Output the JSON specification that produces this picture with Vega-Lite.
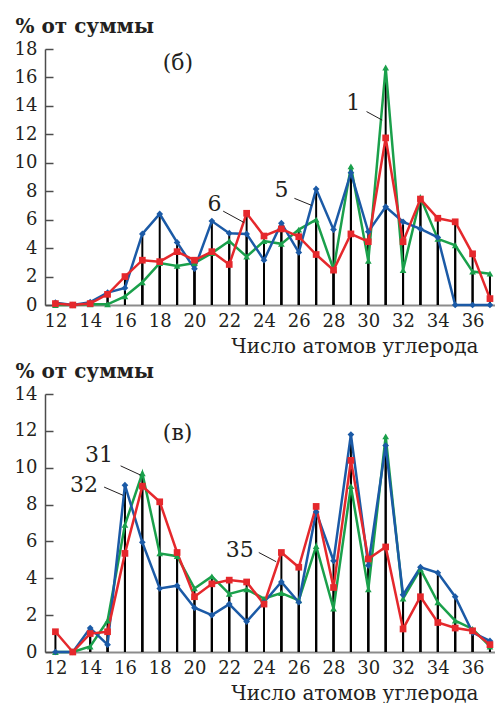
{
  "$schema": "https://vega.github.io/schema/vega-lite/v6.json",
  "padding": {"left": 14, "top": 16, "right": 0, "bottom": 0},
  "background": "white",
  "bounds": "flush",
  "spacing": 89,
  "config": {
    "view": {"stroke": null},
    "font": "DejaVu Serif",
    "axis": {"grid": false, "labelFont": "DejaVu Serif", "titleFont": "DejaVu Serif", "labelColor": "#231f20", "titleColor": "#231f20", "labelOverlap": false, "labelFlush": false, "labelFontSize": 18, "titleFontSize": 20},
    "axisX": {"ticks": false, "domain": true, "domainColor": "#8c8c8c", "domainWidth": 2, "labelPadding": 7, "titleFontWeight": "normal", "titleAlign": "right", "titleX": 433, "titleY": 47, "titleBaseline": "alphabetic"},
    "axisY": {"domain": true, "domainColor": "#4d4d4d", "domainWidth": 1.5, "ticks": true, "tickColor": "#4d4d4d", "tickWidth": 1.5, "tickSize": -8, "labelPadding": 16, "titleAngle": 0, "titleAlign": "left", "titleX": -30, "titleY": -17, "titleBaseline": "alphabetic", "titleFontWeight": "bold"}
  },
  "datasets": {
    "b": [
      {"c": 12, "s": "1", "v": 0.0}, {"c": 12, "s": "5", "v": 0.16}, {"c": 12, "s": "6", "v": 0.1},
      {"c": 13, "s": "1", "v": 0.0}, {"c": 13, "s": "5", "v": 0.0}, {"c": 13, "s": "6", "v": 0.0},
      {"c": 14, "s": "1", "v": 0.05}, {"c": 14, "s": "5", "v": 0.2}, {"c": 14, "s": "6", "v": 0.1},
      {"c": 15, "s": "1", "v": 0.05}, {"c": 15, "s": "5", "v": 0.87}, {"c": 15, "s": "6", "v": 0.75},
      {"c": 16, "s": "1", "v": 0.6}, {"c": 16, "s": "5", "v": 1.2}, {"c": 16, "s": "6", "v": 2.0},
      {"c": 17, "s": "1", "v": 1.6}, {"c": 17, "s": "5", "v": 5.0}, {"c": 17, "s": "6", "v": 3.15},
      {"c": 18, "s": "1", "v": 2.95}, {"c": 18, "s": "5", "v": 6.4}, {"c": 18, "s": "6", "v": 3.05},
      {"c": 19, "s": "1", "v": 2.75}, {"c": 19, "s": "5", "v": 4.4}, {"c": 19, "s": "6", "v": 3.75},
      {"c": 20, "s": "1", "v": 2.95}, {"c": 20, "s": "5", "v": 2.55}, {"c": 20, "s": "6", "v": 3.15},
      {"c": 21, "s": "1", "v": 3.65}, {"c": 21, "s": "5", "v": 5.9}, {"c": 21, "s": "6", "v": 3.75},
      {"c": 22, "s": "1", "v": 4.5}, {"c": 22, "s": "5", "v": 5.05}, {"c": 22, "s": "6", "v": 2.85},
      {"c": 23, "s": "1", "v": 3.4}, {"c": 23, "s": "5", "v": 5.0}, {"c": 23, "s": "6", "v": 6.45},
      {"c": 24, "s": "1", "v": 4.5}, {"c": 24, "s": "5", "v": 3.15}, {"c": 24, "s": "6", "v": 4.85},
      {"c": 25, "s": "1", "v": 4.3}, {"c": 25, "s": "5", "v": 5.75}, {"c": 25, "s": "6", "v": 5.35},
      {"c": 26, "s": "1", "v": 5.3}, {"c": 26, "s": "5", "v": 3.7}, {"c": 26, "s": "6", "v": 4.8},
      {"c": 27, "s": "1", "v": 6.0}, {"c": 27, "s": "5", "v": 8.15}, {"c": 27, "s": "6", "v": 3.55},
      {"c": 28, "s": "1", "v": 2.5}, {"c": 28, "s": "5", "v": 5.3}, {"c": 28, "s": "6", "v": 2.45},
      {"c": 29, "s": "1", "v": 9.75}, {"c": 29, "s": "5", "v": 9.3}, {"c": 29, "s": "6", "v": 5.0},
      {"c": 30, "s": "1", "v": 3.1}, {"c": 30, "s": "5", "v": 5.15}, {"c": 30, "s": "6", "v": 4.45},
      {"c": 31, "s": "1", "v": 16.7}, {"c": 31, "s": "5", "v": 6.9}, {"c": 31, "s": "6", "v": 11.75},
      {"c": 32, "s": "1", "v": 2.45}, {"c": 32, "s": "5", "v": 5.85}, {"c": 32, "s": "6", "v": 4.45},
      {"c": 33, "s": "1", "v": 7.55}, {"c": 33, "s": "5", "v": 5.35}, {"c": 33, "s": "6", "v": 7.45},
      {"c": 34, "s": "1", "v": 4.65}, {"c": 34, "s": "5", "v": 4.75}, {"c": 34, "s": "6", "v": 6.1},
      {"c": 35, "s": "1", "v": 4.2}, {"c": 35, "s": "5", "v": 0.0}, {"c": 35, "s": "6", "v": 5.85},
      {"c": 36, "s": "1", "v": 2.35}, {"c": 36, "s": "5", "v": 0.0}, {"c": 36, "s": "6", "v": 3.6},
      {"c": 37, "s": "1", "v": 2.2}, {"c": 37, "s": "5", "v": 0.0}, {"c": 37, "s": "6", "v": 0.45}
    ],
    "v": [
      {"c": 12, "s": "31", "v": 0.0}, {"c": 12, "s": "32", "v": 0.0}, {"c": 12, "s": "35", "v": 1.1},
      {"c": 13, "s": "31", "v": 0.0}, {"c": 13, "s": "32", "v": 0.0}, {"c": 13, "s": "35", "v": 0.0},
      {"c": 14, "s": "31", "v": 0.3}, {"c": 14, "s": "32", "v": 1.3}, {"c": 14, "s": "35", "v": 1.0},
      {"c": 15, "s": "31", "v": 1.7}, {"c": 15, "s": "32", "v": 0.4}, {"c": 15, "s": "35", "v": 1.1},
      {"c": 16, "s": "31", "v": 6.9}, {"c": 16, "s": "32", "v": 9.05}, {"c": 16, "s": "35", "v": 5.35},
      {"c": 17, "s": "31", "v": 9.7}, {"c": 17, "s": "32", "v": 5.95}, {"c": 17, "s": "35", "v": 9.0},
      {"c": 18, "s": "31", "v": 5.35}, {"c": 18, "s": "32", "v": 3.45}, {"c": 18, "s": "35", "v": 8.15},
      {"c": 19, "s": "31", "v": 5.2}, {"c": 19, "s": "32", "v": 3.6}, {"c": 19, "s": "35", "v": 5.4},
      {"c": 20, "s": "31", "v": 3.45}, {"c": 20, "s": "32", "v": 2.4}, {"c": 20, "s": "35", "v": 3.0},
      {"c": 21, "s": "31", "v": 4.1}, {"c": 21, "s": "32", "v": 2.0}, {"c": 21, "s": "35", "v": 3.7},
      {"c": 22, "s": "31", "v": 3.15}, {"c": 22, "s": "32", "v": 2.6}, {"c": 22, "s": "35", "v": 3.9},
      {"c": 23, "s": "31", "v": 3.4}, {"c": 23, "s": "32", "v": 1.65}, {"c": 23, "s": "35", "v": 3.8},
      {"c": 24, "s": "31", "v": 2.9}, {"c": 24, "s": "32", "v": 2.7}, {"c": 24, "s": "35", "v": 2.6},
      {"c": 25, "s": "31", "v": 3.2}, {"c": 25, "s": "32", "v": 3.8}, {"c": 25, "s": "35", "v": 5.4},
      {"c": 26, "s": "31", "v": 2.8}, {"c": 26, "s": "32", "v": 2.7}, {"c": 26, "s": "35", "v": 4.6},
      {"c": 27, "s": "31", "v": 5.75}, {"c": 27, "s": "32", "v": 7.6}, {"c": 27, "s": "35", "v": 7.9},
      {"c": 28, "s": "31", "v": 2.35}, {"c": 28, "s": "32", "v": 4.95}, {"c": 28, "s": "35", "v": 3.5},
      {"c": 29, "s": "31", "v": 9.0}, {"c": 29, "s": "32", "v": 11.8}, {"c": 29, "s": "35", "v": 10.4},
      {"c": 30, "s": "31", "v": 3.4}, {"c": 30, "s": "32", "v": 4.7}, {"c": 30, "s": "35", "v": 5.05},
      {"c": 31, "s": "31", "v": 11.7}, {"c": 31, "s": "32", "v": 11.2}, {"c": 31, "s": "35", "v": 5.7},
      {"c": 32, "s": "31", "v": 2.9}, {"c": 32, "s": "32", "v": 3.1}, {"c": 32, "s": "35", "v": 1.25},
      {"c": 33, "s": "31", "v": 4.5}, {"c": 33, "s": "32", "v": 4.6}, {"c": 33, "s": "35", "v": 3.0},
      {"c": 34, "s": "31", "v": 2.7}, {"c": 34, "s": "32", "v": 4.3}, {"c": 34, "s": "35", "v": 1.6},
      {"c": 35, "s": "31", "v": 1.7}, {"c": 35, "s": "32", "v": 3.0}, {"c": 35, "s": "35", "v": 1.3},
      {"c": 36, "s": "31", "v": 1.25}, {"c": 36, "s": "32", "v": 1.05}, {"c": 36, "s": "35", "v": 1.15},
      {"c": 37, "s": "31", "v": 0.3}, {"c": 37, "s": "32", "v": 0.6}, {"c": 37, "s": "35", "v": 0.4}
    ],
    "bt": [
      {"c": 19.05, "v": 17.0, "t": "(б)"},
      {"c": 29.14, "v": 14.2, "t": "1"},
      {"c": 25.0, "v": 8.1, "t": "5"},
      {"c": 21.15, "v": 7.1, "t": "6"}
    ],
    "bl": [
      {"c": 29.9, "v": 13.6, "c2": 30.8, "v2": 13.0},
      {"c": 25.75, "v": 7.5, "c2": 26.75, "v2": 7.0},
      {"c": 21.65, "v": 6.6, "c2": 22.85, "v2": 5.8}
    ],
    "vt": [
      {"c": 19.03, "v": 11.87, "t": "(в)"},
      {"c": 14.5, "v": 10.7, "t": "31"},
      {"c": 13.64, "v": 9.06, "t": "32"},
      {"c": 22.6, "v": 5.53, "t": "35"}
    ],
    "vl": [
      {"c": 15.75, "v": 10.1, "c2": 16.9, "v2": 9.6},
      {"c": 14.8, "v": 8.95, "c2": 15.9, "v2": 8.5},
      {"c": 23.7, "v": 5.4, "c2": 24.7, "v2": 4.9}
    ]
  },
  "vconcat": [
    {
      "width": 450,
      "height": 256,
      "encoding": {
        "x": {"field": "c", "type": "quantitative", "scale": {"domain": [11.4, 37.29], "nice": false, "zero": false},
          "axis": {"values": [12, 14, 16, 18, 20, 22, 24, 26, 28, 30, 32, 34, 36], "title": "Число атомов углерода"}},
        "y": {"field": "v", "type": "quantitative", "scale": {"domain": [0, 18], "nice": false},
          "axis": {"values": [0, 2, 4, 6, 8, 10, 12, 14, 16, 18], "title": "% от суммы"}}
      },
      "layer": [
        {
          "data": {"name": "b"},
          "mark": {"type": "rule", "color": "black", "strokeWidth": 2},
          "encoding": {"y2": {"datum": 0}}
        },
        {
          "data": {"name": "b"},
          "mark": {"type": "line", "strokeWidth": 2.5},
          "encoding": {
            "color": {"field": "s", "type": "nominal", "scale": {"domain": ["1", "5", "6"], "range": ["#1aa04b", "#1b5aa6", "#e5282c"]}, "legend": null}
          }
        },
        {
          "data": {"name": "b"},
          "mark": {"type": "point", "filled": true, "opacity": 1, "size": 45},
          "encoding": {
            "color": {"field": "s", "type": "nominal", "legend": null},
            "shape": {"field": "s", "type": "nominal", "scale": {"domain": ["1", "5", "6"], "range": ["triangle-up", "diamond", "square"]}, "legend": null}
          }
        },
        {
          "data": {"name": "bl"},
          "mark": {"type": "rule", "color": "#231f20", "strokeWidth": 1},
          "encoding": {"x2": {"field": "c2"}, "y2": {"field": "v2"}}
        },
        {
          "data": {"name": "bt"},
          "mark": {"type": "text", "fontSize": 22, "font": "DejaVu Serif", "color": "#231f20", "align": "center", "baseline": "middle"},
          "encoding": {"text": {"field": "t"}}
        }
      ]
    },
    {
      "width": 450,
      "height": 258,
      "encoding": {
        "x": {"field": "c", "type": "quantitative", "scale": {"domain": [11.4, 37.29], "nice": false, "zero": false},
          "axis": {"values": [12, 14, 16, 18, 20, 22, 24, 26, 28, 30, 32, 34, 36], "title": "Число атомов углерода"}},
        "y": {"field": "v", "type": "quantitative", "scale": {"domain": [0, 14], "nice": false},
          "axis": {"values": [0, 2, 4, 6, 8, 10, 12, 14], "title": "% от суммы"}}
      },
      "layer": [
        {
          "data": {"name": "v"},
          "mark": {"type": "rule", "color": "black", "strokeWidth": 2},
          "encoding": {"y2": {"datum": 0}}
        },
        {
          "data": {"name": "v"},
          "mark": {"type": "line", "strokeWidth": 2.5},
          "encoding": {
            "color": {"field": "s", "type": "nominal", "scale": {"domain": ["31", "32", "35"], "range": ["#1aa04b", "#1b5aa6", "#e5282c"]}, "legend": null}
          }
        },
        {
          "data": {"name": "v"},
          "mark": {"type": "point", "filled": true, "opacity": 1, "size": 45},
          "encoding": {
            "color": {"field": "s", "type": "nominal", "legend": null},
            "shape": {"field": "s", "type": "nominal", "scale": {"domain": ["31", "32", "35"], "range": ["triangle-up", "diamond", "square"]}, "legend": null}
          }
        },
        {
          "data": {"name": "vl"},
          "mark": {"type": "rule", "color": "#231f20", "strokeWidth": 1},
          "encoding": {"x2": {"field": "c2"}, "y2": {"field": "v2"}}
        },
        {
          "data": {"name": "vt"},
          "mark": {"type": "text", "fontSize": 22, "font": "DejaVu Serif", "color": "#231f20", "align": "center", "baseline": "middle"},
          "encoding": {"text": {"field": "t"}}
        }
      ]
    }
  ]
}
